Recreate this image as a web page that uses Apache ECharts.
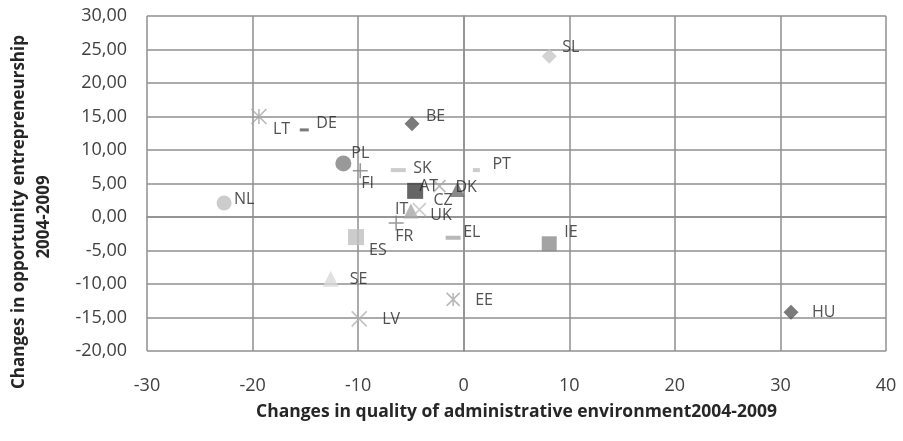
<!DOCTYPE html>
<html>
<head>
<meta charset="utf-8">
<script src="https://cdn.jsdelivr.net/npm/echarts@6/dist/echarts.min.js"></script>
<style>
  html, body { margin: 0; padding: 0; background: #ffffff; }
  #chart { width: 903px; height: 441px; }
</style>
</head>
<body>
<div id="chart"></div>
<script>
// ---- Data ----
const countries = ['SL', 'HU', 'LT', 'DE', 'BE', 'PL', 'FI', 'SK', 'PT', 'AT', 'DK',
                   'CZ', 'IT', 'UK', 'FR', 'NL', 'ES', 'SE', 'LV', 'EL', 'IE', 'EE'];
const adminChange = [8.1, 31.0, -19.4, -15.1, -4.9, -11.4, -9.8, -6.2, 1.2, -4.6, -0.6,
                     -2.3, -5.0, -4.2, -6.4, -22.7, -10.2, -12.6, -9.9, -1.0, 8.1, -1.0];
const entrepChange = [24.0, -14.2, 15.0, 13.0, 13.9, 8.0, 6.9, 7.0, 7.0, 3.9, 4.1,
                      4.6, 0.9, 1.1, -0.9, 2.1, -3.0, -9.2, -15.2, -3.1, -4.0, -12.3];
const xTicks = [-30, -20, -10, 0, 10, 20, 30, 40];
const yTicks = [-20, -15, -10, -5, 0, 5, 10, 15, 20, 25, 30];

const xTitle = 'Changes in quality of administrative environment2004-2009';
const yTitle1 = 'Changes in opportunity entrepreneurship';
const yTitle2 = '2004-2009';

// ---- Marker styles (presentation only) ----
const P_X = 'path://M0,0L10,10M10,0L0,10';
const P_STAR = 'path://M0,0L10,10M10,0L0,10M5,0L5,10';
const P_PLUS = 'path://M5,0L5,10M0,5L10,5';
const markerStyle = {
  SL: { s: 'diamond', size: 15, c: '#c8c8c8' },
  HU: { s: 'diamond', size: 15, c: '#595959' },
  BE: { s: 'diamond', size: 15, c: '#595959' },
  LT: { s: P_STAR, size: 15, c: '#a6a6a6', line: true },
  EE: { s: P_STAR, size: 13, c: '#a6a6a6', line: true },
  DE: { s: 'rect', size: [9, 3], c: '#595959' },
  SK: { s: 'rect', size: [15, 4], c: '#bfbfbf' },
  PT: { s: 'rect', size: [7, 4], c: '#bfbfbf' },
  EL: { s: 'rect', size: [15, 4], c: '#a6a6a6' },
  PL: { s: 'circle', size: 16, c: '#7f7f7f' },
  NL: { s: 'circle', size: 15, c: '#bfbfbf' },
  FI: { s: P_PLUS, size: 15, c: '#7f7f7f', line: true },
  FR: { s: P_PLUS, size: 15, c: '#7f7f7f', line: true },
  AT: { s: 'rect', size: 16, c: '#3f3f3f' },
  ES: { s: 'rect', size: 16, c: '#bfbfbf' },
  IE: { s: 'rect', size: 15, c: '#8c8c8c' },
  DK: { s: 'triangle', size: 15, c: '#6b6b6b' },
  IT: { s: 'triangle', size: 15, c: '#a6a6a6' },
  SE: { s: 'triangle', size: 16, c: '#d9d9d9' },
  UK: { s: P_X, size: 13, c: '#bfbfbf', line: true },
  LV: { s: P_X, size: 15, c: '#b3b3b3', line: true },
  CZ: { s: P_X, size: 12, c: '#a6a6a6', line: true }
};
// label anchor: left edge offset, vertical-centre offset (px) relative to the marker
const labelShift = {
  SL: [13, -9], HU: [21, 0], LT: [14, 13], DE: [12, -6], BE: [14, -7],
  PL: [8, -10], FI: [1, 13], SK: [15, -2], PT: [16, -6], AT: [4, -4],
  DK: [-2, -2], CZ: [-6, 14], IT: [-16, -2], UK: [11, 6], FR: [-1, 13],
  NL: [10, -3], ES: [13, 13], SE: [19, 1], LV: [23, 1], EL: [10, -5],
  IE: [15, -11], EE: [22, 1]
};

const points = countries.map((name, i) => {
  const m = markerStyle[name];
  const sh = labelShift[name];
  return {
    name: name,
    value: [adminChange[i], entrepChange[i]],
    symbol: m.s,
    symbolSize: m.size,
    itemStyle: m.line
      ? { color: m.c, borderColor: m.c, borderWidth: 1.6 }
      : { color: m.c },
    label: {
      show: true,
      formatter: name,
      position: 'inside',
      align: 'left',
      verticalAlign: 'middle',
      offset: sh
    }
  };
});

const chart = echarts.init(document.getElementById('chart'), null, { renderer: 'canvas' });
const gridColor = '#8f8f8f';
chart.setOption({
  animation: false,
  backgroundColor: '#ffffff',
  grid: { left: 147, right: 17, top: 16, bottom: 90, containLabel: false },
  xAxis: {
    type: 'value',
    min: xTicks[0], max: xTicks[xTicks.length - 1], interval: 10,
    name: xTitle,
    nameLocation: 'middle',
    nameGap: 52,
    nameTextStyle: { fontFamily: 'Open Sans', fontWeight: 'bold', fontSize: 17.5, color: '#262626' },
    axisLine: { show: true, lineStyle: { color: gridColor, width: 1.5 } },
    axisTick: { show: false },
    axisLabel: { margin: 26, fontFamily: 'Open Sans', fontSize: 18, color: '#404040' },
    splitLine: { show: true, lineStyle: { color: gridColor, width: 1.5 } }
  },
  yAxis: {
    type: 'value',
    min: yTicks[0], max: yTicks[yTicks.length - 1], interval: 5,
    axisLine: { show: true, lineStyle: { color: gridColor, width: 1.5 } },
    axisTick: { show: false },
    axisLabel: {
      margin: 20, fontFamily: 'Open Sans', fontSize: 18, color: '#404040',
      formatter: v => v.toFixed(2).replace('.', ',')
    },
    splitLine: { show: true, lineStyle: { color: gridColor, width: 1.5 } }
  },
  graphic: [
    {
      type: 'text', x: 19, y: 212, rotation: Math.PI / 2,
      style: { text: yTitle1, fontFamily: 'Open Sans', fontWeight: 'bold', fontSize: 17,
               fill: '#262626', textAlign: 'center', textVerticalAlign: 'middle' }
    },
    {
      type: 'text', x: 44, y: 217, rotation: Math.PI / 2,
      style: { text: yTitle2, fontFamily: 'Open Sans', fontWeight: 'bold', fontSize: 17,
               fill: '#262626', textAlign: 'center', textVerticalAlign: 'middle' }
    }
  ],
  series: [{
    type: 'scatter',
    data: points,
    label: { fontFamily: 'Open Sans', fontSize: 16, color: '#262626' },
    emphasis: { disabled: true }
  }]
});
</script>
</body>
</html>
